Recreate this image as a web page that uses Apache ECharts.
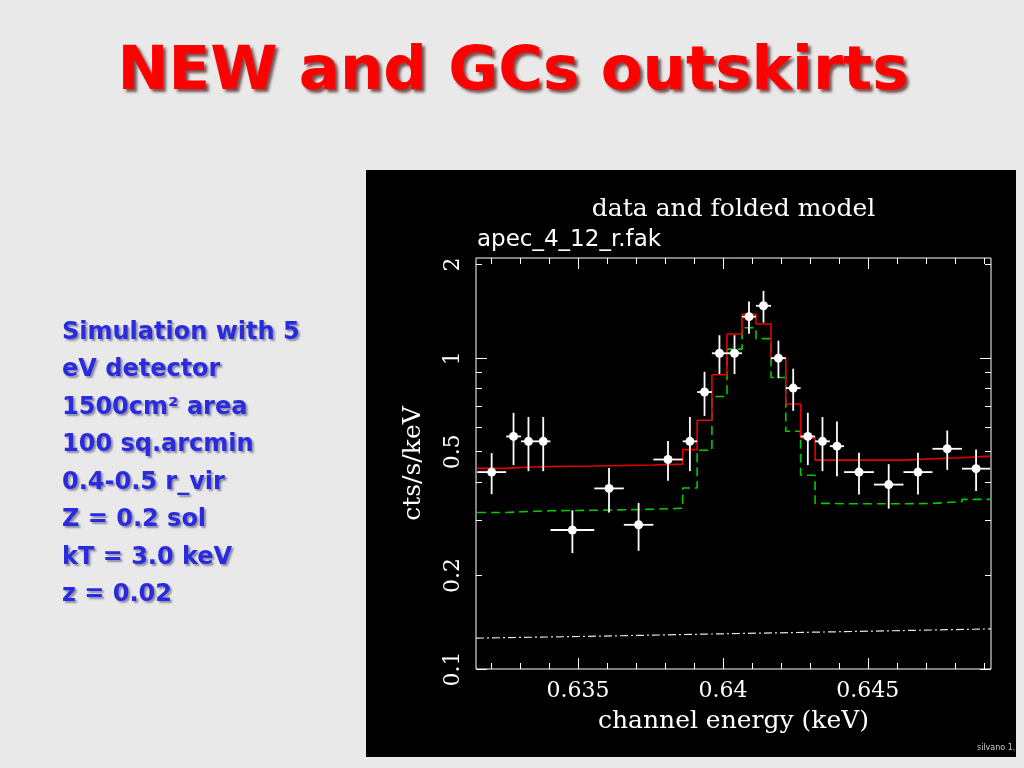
<!DOCTYPE html>
<html>
<head>
<meta charset="utf-8">
<script src="https://cdn.jsdelivr.net/npm/echarts@6/dist/echarts.min.js"></script>
<style>
html,body{margin:0;padding:0;background:#e9e9e9;}
#c{width:1024px;height:768px;}
</style>
</head>
<body>
<div id="c"></div>
<script>
// ---- data ----
const binEdges = [0.63152, 0.63252, 0.63303, 0.63355, 0.63405, 0.63556, 0.63658, 0.63760,
  0.63861, 0.63911, 0.63962, 0.64014, 0.64066, 0.64114, 0.64166, 0.64217, 0.64268,
  0.64318, 0.64369, 0.64418, 0.64521, 0.64623, 0.64723, 0.64825, 0.64922];
const counts = [0.430, 0.560, 0.540, 0.540, 0.280, 0.381, 0.291, 0.472, 0.540, 0.778,
  1.037, 1.037, 1.360, 1.474, 1.000, 0.801, 0.560, 0.540, 0.521, 0.430, 0.392, 0.430, 0.511, 0.441];
const countErrors = [0.065, 0.107, 0.107, 0.107, 0.044, 0.062, 0.051, 0.069, 0.107, 0.126,
  0.148, 0.148, 0.162, 0.173, 0.138, 0.124, 0.107, 0.107, 0.104, 0.066, 0.064, 0.066, 0.074, 0.067];
const modelTotal = [0.442, 0.445, 0.4465, 0.448, 0.4496, 0.4516, 0.4533, 0.456, 0.508, 0.631,
  0.884, 1.196, 1.384, 1.288, 1.000, 0.712, 0.554, 0.470, 0.470, 0.470, 0.470, 0.4745, 0.478, 0.484];
const modelComponent = [0.3186, 0.3205, 0.3217, 0.323, 0.324, 0.3254, 0.3266, 0.3289, 0.382, 0.5055,
  0.753, 1.069, 1.253, 1.156, 0.867, 0.582, 0.420, 0.341, 0.340, 0.340, 0.340, 0.341, 0.3455, 0.3514];
const bkgX = [0.63148, 0.635, 0.640, 0.645, 0.64925];
const bkgY = [0.1257, 0.1272, 0.1298, 0.1323, 0.1346];

const xMajorTicks = [0.635, 0.64, 0.645];
const xMinorTicks = [0.632, 0.633, 0.634, 0.636, 0.637, 0.638, 0.639, 0.641, 0.642, 0.643, 0.644, 0.646, 0.647, 0.648, 0.649];
const yLabelValues = [0.1, 0.2, 0.5, 1, 2];
const yMajorTicks = [0.1, 1];
const yMinorTicks = [0.2, 0.3, 0.4, 0.5, 0.6, 0.7, 0.8, 0.9, 2];

const slideTitle = 'NEW and GCs outskirts';
const sideText = ['Simulation with 5', 'eV detector', '1500cm\u00B2 area', '100 sq.arcmin',
  '0.4-0.5 r_vir', 'Z = 0.2 sol', 'kT = 3.0 keV', 'z = 0.02'];
const plotTitle = 'data and folded model';
const plotSubtitle = 'apec_4_12_r.fak';
const xName = 'channel energy (keV)';
const yName = 'cts/s/keV';

// ---- chart ----
const X_MIN = 0.63148, X_MAX = 0.64925, Y_MIN = 0.1, Y_MAX = 2.1;
const L = v => Math.log10(v);

const stepData = vals => binEdges.map((e, i) => [e, vals[Math.min(i, vals.length - 1)]]);
const pointData = counts.map((c, i) => [(binEdges[i] + binEdges[i + 1]) / 2, c, binEdges[i], binEdges[i + 1], countErrors[i]]);
const bkgData = bkgX.map((x, i) => [x, bkgY[i]]);

const serif = 'DejaVu Serif';
const tickLabel = { color: '#fff', fontFamily: serif, fontSize: 22 };

function xAx(pos, ticks, len, labels, extra) {
  return Object.assign({
    type: 'value', min: X_MIN, max: X_MAX, position: pos, gridIndex: 0,
    axisLine: { show: false, onZero: false }, splitLine: { show: false },
    axisTick: { show: true, inside: true, length: len, customValues: ticks, lineStyle: { color: '#fff', width: 1 } },
    axisLabel: labels ? Object.assign({ show: true, customValues: labels, margin: 11 }, tickLabel) : { show: false }
  }, extra || {});
}
function yAx(pos, ticks, len, labels, extra) {
  return Object.assign({
    type: 'value', min: L(Y_MIN), max: L(Y_MAX), position: pos, gridIndex: 0,
    axisLine: { show: false, onZero: false }, splitLine: { show: false },
    axisTick: { show: true, inside: true, length: len, customValues: ticks.map(L), lineStyle: { color: '#fff', width: 1 } },
    axisLabel: labels ? Object.assign({
      show: true, customValues: labels.map(L), margin: 12, rotate: 90,
      formatter: v => { const m = labels.find(l => Math.abs(L(l) - v) < 1e-6); return m === undefined ? '' : String(m); }
    }, tickLabel) : { show: false }
  }, extra || {});
}

const chart = echarts.init(document.getElementById('c'), null, { renderer: 'canvas' });
chart.setOption({
  animation: false,
  backgroundColor: '#e9e9e9',
  grid: { left: 476, top: 258, width: 515, height: 411, show: true, borderColor: '#fff', borderWidth: 1, backgroundColor: 'transparent' },
  xAxis: [
    xAx('bottom', xMajorTicks, 11, xMajorTicks, {
      name: xName, nameLocation: 'middle', nameGap: 40,
      nameTextStyle: { color: '#fff', fontFamily: serif, fontSize: 25 }
    }),
    xAx('bottom', xMinorTicks, 6, null),
    xAx('top', xMajorTicks, 11, null),
    xAx('top', xMinorTicks, 6, null)
  ],
  yAxis: [
    { type: 'log', logBase: 10, min: Y_MIN, max: Y_MAX, gridIndex: 0, show: false, axisLine: { onZero: false } },
    yAx('left', yMajorTicks, 11, yLabelValues, {
      name: yName, nameLocation: 'middle', nameGap: 50, nameRotate: 90,
      nameTextStyle: { color: '#fff', fontFamily: serif, fontSize: 25 }
    }),
    yAx('left', yMinorTicks, 6, null),
    yAx('right', yMajorTicks, 11, null),
    yAx('right', yMinorTicks, 6, null)
  ],
  graphic: [
    { type: 'rect', z: -10, shape: { x: 366, y: 170, width: 650, height: 587 }, style: { fill: '#000' } },
    { type: 'text', z: 10, x: 513, y: 73, style: {
      text: slideTitle, fill: '#ff0000', font: 'bold 61px "DejaVu Sans"', align: 'center', verticalAlign: 'middle',
      textShadowColor: 'rgba(60,0,0,0.65)', textShadowBlur: 3, textShadowOffsetX: 3, textShadowOffsetY: 3 } },
    { type: 'text', z: 10, x: 62, y: 314, style: {
      text: sideText.join('\n'), fill: '#2a2ade', font: 'bold 24px "DejaVu Sans"', lineHeight: 37.5,
      textShadowColor: 'rgba(0,0,60,0.4)', textShadowBlur: 2, textShadowOffsetX: 2, textShadowOffsetY: 2 } },
    { type: 'text', z: 10, x: 733.5, y: 209, style: {
      text: plotTitle, fill: '#fff', font: '25px "DejaVu Serif"', align: 'center', verticalAlign: 'middle' } },
    { type: 'text', z: 10, x: 477, y: 240, style: {
      text: plotSubtitle, fill: '#fff', font: '23px "DejaVu Sans"', align: 'left', verticalAlign: 'middle' } },
    { type: 'text', z: 10, x: 977, y: 748, style: {
      text: 'silvano 1.', fill: '#c8c8c8', font: '8px "DejaVu Sans"', align: 'left', verticalAlign: 'middle' } }
  ],
  series: [
    { type: 'line', xAxisIndex: 0, yAxisIndex: 0, step: 'end', data: stepData(modelComponent), symbol: 'none',
      lineStyle: { color: '#00cc00', width: 1.6, type: [9, 5] }, z: 3 },
    { type: 'line', xAxisIndex: 0, yAxisIndex: 0, step: 'end', data: stepData(modelTotal), symbol: 'none',
      lineStyle: { color: '#e80000', width: 1.6 }, z: 4 },
    { type: 'line', xAxisIndex: 0, yAxisIndex: 0, data: bkgData, symbol: 'none',
      lineStyle: { color: '#e6e6e6', width: 1.2, type: [8, 3, 2, 3] }, z: 3 },
    { type: 'custom', xAxisIndex: 0, yAxisIndex: 0, data: pointData, encode: { x: 0, y: 1 }, z: 5,
      renderItem: function (params, api) {
        const xc = api.value(0), y = api.value(1), lo = api.value(2), hi = api.value(3), e = api.value(4);
        const p = api.coord([xc, y]), pl = api.coord([lo, y]), ph = api.coord([hi, y]);
        const pt = api.coord([xc, y + e]), pb = api.coord([xc, y - e]);
        return { type: 'group', children: [
          { type: 'line', shape: { x1: pl[0], y1: pl[1], x2: ph[0], y2: ph[1] }, style: { stroke: '#fff', lineWidth: 1.8 } },
          { type: 'line', shape: { x1: pt[0], y1: pt[1], x2: pb[0], y2: pb[1] }, style: { stroke: '#fff', lineWidth: 1.8 } },
          { type: 'circle', shape: { cx: p[0], cy: p[1], r: 4.5 }, style: { fill: '#fff' } }
        ] };
      } }
  ]
});
</script>
</body>
</html>
